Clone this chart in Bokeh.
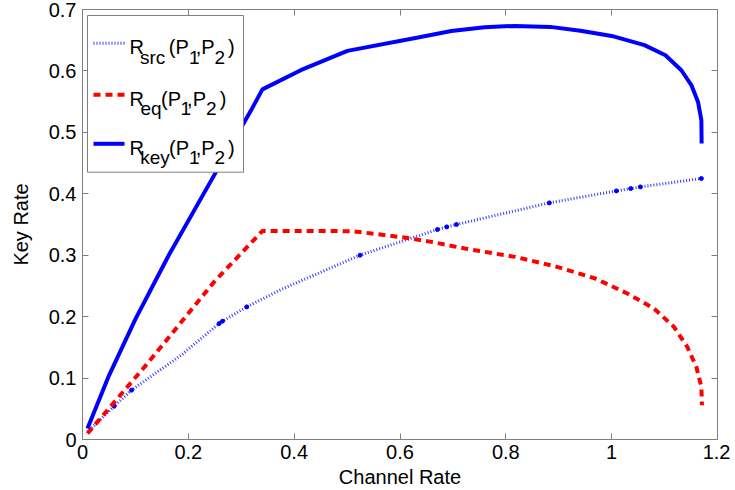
from bokeh.plotting import figure
from bokeh.models import Range1d, LinearAxis, FixedTicker, Label, BoxAnnotation
from bokeh.embed import file_html
from bokeh.resources import INLINE

# ---------------- data ----------------
x_ticks = [0, 0.2, 0.4, 0.6, 0.8, 1.0, 1.2]
x_tick_labels = ["0", "0.2", "0.4", "0.6", "0.8", "1", "1.2"]
y_ticks = [0, 0.1, 0.2, 0.3, 0.4, 0.5, 0.6, 0.7]
y_tick_labels = ["0", "0.1", "0.2", "0.3", "0.4", "0.5", "0.6", "0.7"]
x_title = "Channel Rate"
y_title = "Key Rate"

key_x = [0.0094, 0.05, 0.10, 0.163, 0.25, 0.318, 0.340, 0.4124, 0.5006, 0.634,
         0.697, 0.760, 0.817, 0.884, 0.941, 1.0, 1.062, 1.1016, 1.1317, 1.1506,
         1.1632, 1.1695, 1.1700]
key_y = [0.018, 0.104, 0.196, 0.300, 0.432, 0.535, 0.570, 0.6012, 0.6326, 0.6544,
         0.6650, 0.6712, 0.6733, 0.6717, 0.6655, 0.657, 0.642, 0.6256, 0.6011, 0.5770,
         0.5496, 0.5198, 0.482]

eq_x = [0.0094, 0.1227, 0.2487, 0.340, 0.45, 0.5114, 0.5573, 0.6077, 0.6594, 0.7225,
        0.817, 0.8926, 0.968, 1.0296, 1.0799, 1.1177, 1.1429, 1.160, 1.1695, 1.1707]
eq_y = [0.0098, 0.1237, 0.2566, 0.3396, 0.3396, 0.3390, 0.3342, 0.3288, 0.3217, 0.3109,
        0.2973, 0.2821, 0.2625, 0.2377, 0.2133, 0.1833, 0.1507, 0.1182, 0.0856, 0.0558]

src_x = [0.0094, 0.0598, 0.0926, 0.186, 0.2582, 0.2645, 0.3104, 0.376, 0.5245, 0.6707,
         0.6883, 0.7066, 0.8822, 0.9981, 1.0089, 1.0359, 1.0542, 1.1695]
src_y = [0.012, 0.0542, 0.0803, 0.137, 0.1888, 0.1926, 0.2159, 0.2445, 0.300, 0.3418,
         0.3461, 0.350, 0.3852, 0.4031, 0.4047, 0.4085, 0.4112, 0.4249]

src_dot_x = [0.0598, 0.0926, 0.2582, 0.2645, 0.3104, 0.5245, 0.6707, 0.6883, 0.7066,
             0.8822, 1.0089, 1.0359, 1.0542, 1.1695]
src_dot_y = [0.0542, 0.0803, 0.1888, 0.1926, 0.2159, 0.300, 0.3418, 0.3461, 0.350,
             0.3852, 0.4047, 0.4085, 0.4112, 0.4249]

legend_subs = ["src", "eq", "key"]

# ---------------- styling / layout ----------------
FONT = "Liberation Sans"
GREY = "#7f7f7f"
BLUE = "#0000ff"
RED = "#ff0000"
DOT_BLUE = "#3a3aff"

W, H = 730, 490
BL, BR, BT, BB = 82, 13, 9, 51
X0, X1 = 0.0, 1.2
Y0, Y1 = 0.0, 0.7

p = figure(width=W, height=H, x_range=Range1d(X0, X1), y_range=Range1d(Y0, Y1),
           output_backend="svg", toolbar_location=None,
           min_border_left=BL, min_border_right=BR, min_border_top=BT, min_border_bottom=BB)
p.xgrid.visible = False
p.ygrid.visible = False
p.outline_line_color = GREY
p.background_fill_color = "white"
p.border_fill_color = "white"

# canvas-pixel -> data helpers for the hand-made legend
FW = W - BL - BR
FH = H - BT - BB
def px2x(px):
    return X0 + (px - BL) / FW * (X1 - X0)
def py2y(py):
    return Y0 + (BT + FH - py) / FH * (Y1 - Y0)

def style_axis(ax, ticks, labels, show_labels=True):
    ax.ticker = FixedTicker(ticks=ticks)
    ax.major_label_overrides = {float(t): l for t, l in zip(ticks, labels)}
    ax.major_tick_in = 6
    ax.major_tick_out = 0
    ax.minor_tick_line_color = None
    ax.axis_line_color = GREY
    ax.major_tick_line_color = GREY
    ax.major_label_text_font = FONT
    ax.major_label_text_color = "black"
    if show_labels:
        ax.major_label_text_font_size = "20px"
    else:
        ax.major_label_text_font_size = "0px"
        ax.major_label_standoff = 0

style_axis(p.xaxis[0], x_ticks, x_tick_labels)
style_axis(p.yaxis[0], y_ticks, y_tick_labels)
p.xaxis[0].major_label_standoff = 5
p.yaxis[0].major_label_standoff = 6

for ax, lab in [(p.xaxis[0], x_title), (p.yaxis[0], y_title)]:
    ax.axis_label = lab
    ax.axis_label_text_font = FONT
    ax.axis_label_text_font_size = "20px"
    ax.axis_label_text_font_style = "normal"
    ax.axis_label_text_color = "black"
p.xaxis[0].axis_label_standoff = 4
p.yaxis[0].axis_label_standoff = 14

top_ax = LinearAxis()
style_axis(top_ax, x_ticks, [""] * len(x_ticks), show_labels=False)
p.add_layout(top_ax, "above")
right_ax = LinearAxis()
style_axis(right_ax, y_ticks, [""] * len(y_ticks), show_labels=False)
p.add_layout(right_ax, "right")

# ---------------- data lines ----------------
p.line(src_x, src_y, line_color=DOT_BLUE, line_width=3, line_dash="1 2")
p.scatter(src_dot_x, src_dot_y, size=4, fill_color=BLUE, line_color=BLUE)
p.line(eq_x, eq_y, line_color=RED, line_width=4, line_dash="7 5")
p.line(key_x, key_y, line_color=BLUE, line_width=4)

# ---------------- legend (hand-made for subscripts) ----------------
p.add_layout(BoxAnnotation(left=px2x(87), right=px2x(243), top=py2y(15), bottom=py2y(171.7),
                           fill_color="white", fill_alpha=1.0, line_color=GREY, line_width=1,
                           line_alpha=1.0))

rows = [42.7, 94.3, 143.3]
sample_styles = [dict(line_color=DOT_BLUE, line_width=3, line_dash="1 2"),
                 dict(line_color=RED, line_width=4, line_dash="7 5"),
                 dict(line_color=BLUE, line_width=4)]
# piece positions (canvas px) for each entry: (text, x, is_sub)
layouts = [
    [("R", 129, False), (legend_subs[0], 139.5, True), ("(P", 168.3, False), ("1", 188.5, True),
     (",P", 195.2, False), ("2", 214, True), (")", 227.5, False)],
    [("R", 129, False), (legend_subs[1], 140, True), ("(P", 160.5, False), ("1", 180, True),
     (",P", 186.6, False), ("2", 205.5, True), (")", 219.3, False)],
    [("R", 129, False), (legend_subs[2], 139.8, True), ("(P", 168.5, False), ("1", 188.5, True),
     (",P", 195.2, False), ("2", 214, True), (")", 227.5, False)],
]
for ry, st, lay in zip(rows, sample_styles, layouts):
    p.line([px2x(93), px2x(124)], [py2y(ry), py2y(ry)], level="overlay", **st)
    for txt, px, sub in lay:
        p.add_layout(Label(x=px2x(px), y=py2y(ry + (14 if sub else 3.8)), text=txt,
                           text_font=FONT, text_font_size=("19px" if sub else "20px"),
                           text_color="black", text_baseline="alphabetic", text_align="left"))

open("out.html", "w").write(file_html(p, INLINE))
